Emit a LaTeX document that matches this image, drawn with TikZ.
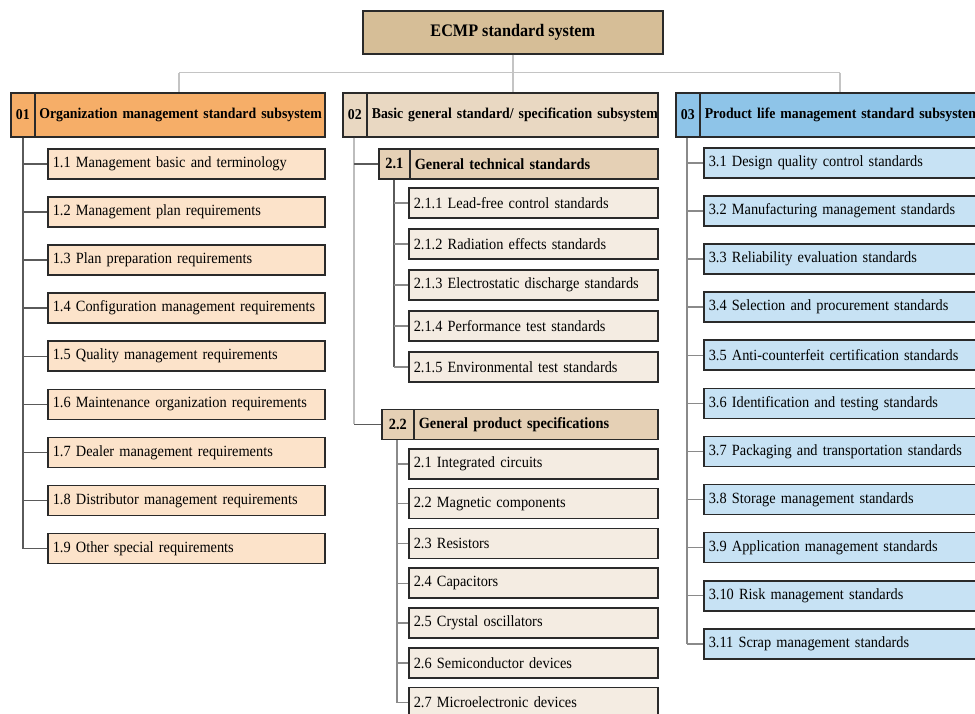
\documentclass[tikz,border=0pt]{standalone}
\usepackage{fontspec}
\setmainfont[FakeStretch=0.92]{Liberation Serif}
\definecolor{bordc}{HTML}{2A2A2A}
\definecolor{topc}{HTML}{D6BE97}
\definecolor{hA}{HTML}{F6AE68}
\definecolor{cA}{HTML}{FCE3CA}
\definecolor{hB}{HTML}{E9D8C2}
\definecolor{sB}{HTML}{E5D0B5}
\definecolor{cB}{HTML}{F4ECE2}
\definecolor{hC}{HTML}{8EC4E8}
\definecolor{cC}{HTML}{C7E2F4}
\definecolor{busc}{HTML}{C4C4C4}
\definecolor{trkc}{HTML}{5A5A5A}
\definecolor{trkl}{HTML}{BDBDBD}
\definecolor{trkm}{HTML}{8A8A8A}
\begin{document}
\begin{tikzpicture}[x=1pt,y=-1pt,
  box/.style={draw=bordc, line width=1.6pt, inner ysep=0pt, inner xsep=5pt, anchor=north west, align=left, minimum height=30pt},
  itemtxt/.style={font=\fontsize{15.6}{18}\selectfont},
  hdrtxt/.style={font=\fontsize{15}{18}\selectfont\bfseries},
  subtxt/.style={font=\fontsize{15.6}{18}\selectfont\bfseries},
  numcell/.style={box, inner xsep=0pt, align=center},
  cAbox/.style={box, itemtxt, fill=cA, text width=267pt},
  cBbox/.style={box, itemtxt, fill=cB, text width=239pt},
  cCbox/.style={box, itemtxt, fill=cC, text width=297pt},
  busline/.style={draw=busc, line width=1.5pt},
  trunk/.style={draw=trkc, line width=1.4pt},
  trunkl/.style={draw=trkl, line width=1.4pt},
  trunkm/.style={draw=trkm, line width=1.4pt}
]
\useasboundingbox (0,0) rectangle (975,713);
\clip (0,0) rectangle (975,713);
\fill[white] (0,0) rectangle (975,713);

% top
\node[box, fill=topc, minimum width=300pt, minimum height=43pt, align=center, inner xsep=0pt,
      font=\fontsize{17.6}{20}\selectfont\bfseries] (top) at (362,10) {ECMP standard system};

% headers
\node[numcell, hdrtxt, fill=hA, minimum width=24pt, minimum height=44pt] (n1) at (10,92) {01};
\node[box, hdrtxt, fill=hA, minimum height=44pt, text width=281pt, inner xsep=4.5pt] (t1) at (34,92) {\mbox{Organization management standard subsystem}};
\node[numcell, hdrtxt, fill=hB, minimum width=24pt, minimum height=44pt] (n2) at (342,92) {02};
\node[box, hdrtxt, fill=hB, minimum height=44pt, text width=281pt] (t2) at (366,92) {\mbox{Basic general standard/ specification subsystem}};
\node[numcell, hdrtxt, fill=hC, minimum width=24pt, minimum height=44pt] (n3) at (675,92) {03};
\node[box, hdrtxt, fill=hC, minimum height=44pt, text width=301pt] (t3) at (699,92) {\mbox{Product life management standard subsystem}};

% sub headers
\node[numcell, subtxt, fill=sB, minimum width=31pt] (n21) at (378,148) {2.1};
\node[box, subtxt, fill=sB, text width=238pt] (t21) at (409,148) {\mbox{General technical standards}};
\node[numcell, subtxt, fill=sB, minimum width=32pt] (n22) at (381,408.5) {2.2};
\node[box, subtxt, fill=sB, text width=234pt] (t22) at (413,408.5) {\mbox{General product specifications}};

% column 1 items
\foreach \t [count=\i from 0] in {1.1 Management basic and terminology,1.2 Management plan requirements,1.3 Plan preparation requirements,1.4 Configuration management requirements,1.5 Quality management requirements,1.6 Maintenance organization requirements,1.7 Dealer management requirements,1.8 Distributor management requirements,1.9 Other special requirements}
  {\node[cAbox] (a-\i) at (47,{148+\i*48.1}) {\mbox{\t}};}

% column 2 items
\foreach \t [count=\i from 0] in {2.1.1 Lead-free control standards,2.1.2 Radiation effects standards,2.1.3 Electrostatic discharge standards,2.1.4 Performance test standards,2.1.5 Environmental test standards}
  {\node[cBbox] (b-\i) at (408,{187+\i*41}) {\mbox{\t}};}
\foreach \t [count=\i from 0] in {2.1 Integrated circuits,2.2 Magnetic components,2.3 Resistors,2.4 Capacitors,2.5 Crystal oscillators,2.6 Semiconductor devices,2.7 Microelectronic devices}
  {\node[cBbox] (p-\i) at (408,{448+\i*39.8}) {\mbox{\t}};}

% column 3 items
\foreach \t [count=\i from 0] in {3.1 Design quality control standards,3.2 Manufacturing management standards,3.3 Reliability evaluation standards,3.4 Selection and procurement standards,3.5 Anti-counterfeit certification standards,3.6 Identification and testing standards,3.7 Packaging and transportation standards,3.8 Storage management standards,3.9 Application management standards,3.10 Risk management standards,3.11 Scrap management standards}
  {\node[cCbox] (c-\i) at (703,{147+\i*48.1}) {\mbox{\t}};}

% bus
\coordinate (busL) at (179,72.5);
\coordinate (busR) at (840,72.5);
\draw[busline] (top.south) -- (top.south |- busL);
\draw[busline] (busL) -- (busR);
\draw[busline] (busL) -- (busL |- t1.north);
\draw[busline] (top.south |- busL) -- (top.south |- t2.north);
\draw[busline] (busR) -- (busR |- t3.north);

% trunk 1
\coordinate (tr1) at (23,0);
\draw[trunk] (tr1 |- n1.south) -- (tr1 |- a-8.west);
\foreach \i in {0,...,8} {\draw[trunk] (tr1 |- a-\i.west) -- (a-\i.west);}

% trunk 2
\coordinate (tr2) at (354,0);
\draw[trunkl] (tr2 |- n2.south) -- (tr2 |- n22.west);
\draw[trunk] (tr2 |- n21.west) -- (n21.west);
\draw[trunk] (tr2 |- n22.west) -- (n22.west);

\coordinate (tr21) at (394,0);
\draw[trunk] (tr21 |- n21.south) -- (tr21 |- b-4.west);
\foreach \i in {0,...,4} {\draw[trunkm] (tr21 |- b-\i.west) -- (b-\i.west);}

\coordinate (tr22) at (397,0);
\draw[trunkm] (tr22 |- n22.south) -- (tr22 |- p-6.west);
\foreach \i in {0,...,6} {\draw[trunkm] (tr22 |- p-\i.west) -- (p-\i.west);}

% trunk 3
\coordinate (tr3) at (687,0);
\draw[trunkm] (tr3 |- n3.south) -- (tr3 |- c-10.west);
\foreach \i in {0,...,10} {\draw[trunkm] (tr3 |- c-\i.west) -- (c-\i.west);}
\end{tikzpicture}
\end{document}
